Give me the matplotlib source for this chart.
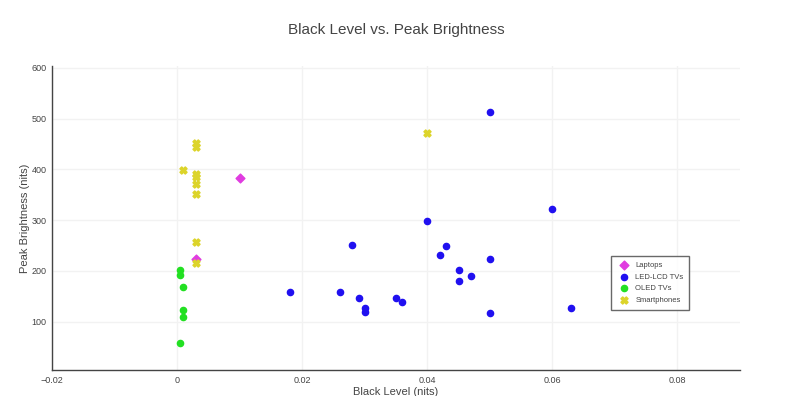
import matplotlib
matplotlib.use("Agg")
import matplotlib.pyplot as plt

plt.rcParams["font.family"] = ["Liberation Sans", "DejaVu Sans"]

#Data
laptops_x = [0.010, 0.003]
laptops_y = [383, 223]

lcd_x = [0.018, 0.026, 0.028, 0.029, 0.030, 0.030, 0.035, 0.036, 0.040, 0.042,
         0.043, 0.045, 0.045, 0.047, 0.050, 0.050, 0.050, 0.060, 0.063]
lcd_y = [158, 158, 252, 146, 127, 120, 147, 138, 299, 232,
         250, 202, 181, 191, 224, 117, 513, 322, 127]

oled_x = [0.0005, 0.0005, 0.001, 0.001, 0.001, 0.0005]
oled_y = [202, 193, 168, 124, 110, 59]

phones_x = [0.003, 0.003, 0.003, 0.003, 0.003, 0.003, 0.003, 0.003, 0.001, 0.040]
phones_y = [452, 445, 391, 386, 371, 351, 257, 216, 399, 471]

x_ticks = [-0.02, 0, 0.02, 0.04, 0.06, 0.08]
x_tick_labels = ["\u22120.02", "0", "0.02", "0.04", "0.06", "0.08"]
y_ticks = [100, 200, 300, 400, 500, 600]

fig = plt.figure(figsize=(7.92, 3.96), dpi=100)
ax = fig.add_axes([0.0657, 0.0657, 0.8687, 0.768])

ax.scatter(laptops_x, laptops_y, marker="D", s=20, color="#e03ce0", label="Laptops", zorder=3)
ax.scatter(lcd_x, lcd_y, marker="o", s=20, color="#2010f0", label="LED-LCD TVs", zorder=3)
ax.scatter(oled_x, oled_y, marker="o", s=20, color="#22e022", label="OLED TVs", zorder=3)
ax.scatter(phones_x, phones_y, marker="X", s=26, color="#dcd42a", label="Smartphones", zorder=3)

ax.set_xlim(-0.02, 0.09)
ax.set_ylim(5, 604)
ax.set_xticks(x_ticks)
ax.set_xticklabels(x_tick_labels)
ax.set_yticks(y_ticks)
ax.tick_params(length=0, labelsize=6.5, labelcolor="#444444", pad=4)
ax.grid(True, color="#f2f2f2", linewidth=1)
ax.set_axisbelow(True)

for side in ["top", "right"]:
    ax.spines[side].set_visible(False)
for side in ["left", "bottom"]:
    ax.spines[side].set_color("#444444")
    ax.spines[side].set_linewidth(1)

ax.set_xlabel("Black Level (nits)", fontsize=8, color="#444444", labelpad=2)
ax.set_ylabel("Peak Brightness (nits)", fontsize=8, color="#444444", labelpad=1)
fig.suptitle("Black Level vs. Peak Brightness", fontsize=11, color="#444444", y=0.942)

leg = ax.legend(loc="upper left", bbox_to_anchor=(0.8125, 0.375), fontsize=5.5,
                frameon=True, fancybox=False, borderpad=0.7, handletextpad=0.5,
                labelspacing=0.6, borderaxespad=0, labelcolor="#444444")
leg.get_frame().set_edgecolor("#444444")
leg.get_frame().set_linewidth(1)

fig.savefig("out.png", dpi=100)
